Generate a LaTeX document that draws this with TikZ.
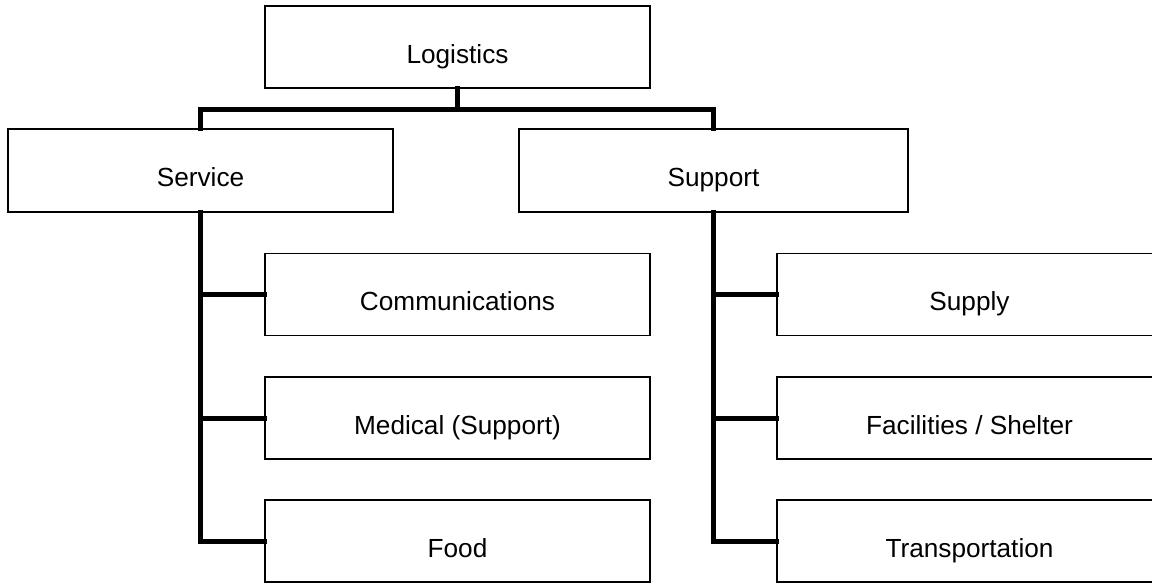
\documentclass[tikz,border=0pt]{standalone}
\usepackage{fontspec}
\setmainfont{Liberation Sans}
\begin{document}
\begin{tikzpicture}[x=1pt,y=1pt,
  box/.style={draw, line width=1.5pt, minimum width=#1, inner sep=0pt, text height=32pt, text depth=0pt, font=\fontsize{26.2}{30}\selectfont},
  box/.default=385pt,
  conn/.style={line width=5pt, line join=miter, line cap=rect}]
\useasboundingbox (0,0) rectangle (1152,-584);
\node[box=385pt, minimum height=82pt] (log) at (457.5,-47) {Logistics};
\node[box=385pt, minimum height=83pt] (svc) at (200.5,-170.5) {Service};
\node[box=389pt, minimum height=83pt] (sup) at (713.5,-170.5) {Support};
\node[box=385pt, minimum height=82pt] (comm) at (457.5,-294.5) {Communications};
\node[box=385pt, minimum height=82pt] (med) at (457.5,-418) {Medical (Support)};
\node[box=385pt, minimum height=82pt] (food) at (457.5,-541) {Food};
\node[box=385pt, minimum height=82pt] (supp) at (969.5,-294.5) {Supply};
\node[box=385pt, minimum height=82pt] (fac) at (969.5,-418) {Facilities / Shelter};
\node[box=385pt, minimum height=82pt] (tra) at (969.5,-541) {Transportation};
\coordinate (bar) at (457.5,-109.5);
\draw[conn] (log.south) -- (bar);
\draw[conn] (bar) -| (svc.north);
\draw[conn] (bar) -| (sup.north);
\draw[conn] (svc.south) |- (food.west);
\draw[conn] (svc.south |- comm.west) -- (comm.west);
\draw[conn] (svc.south |- med.west) -- (med.west);
\draw[conn] (sup.south) |- (tra.west);
\draw[conn] (sup.south |- supp.west) -- (supp.west);
\draw[conn] (sup.south |- fac.west) -- (fac.west);
\end{tikzpicture}
\end{document}
